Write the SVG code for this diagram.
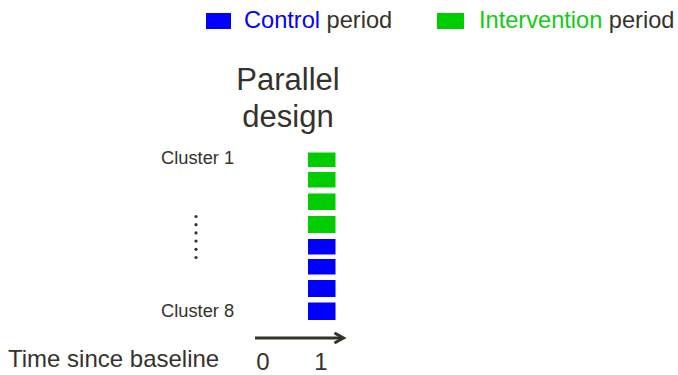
<svg xmlns="http://www.w3.org/2000/svg" width="678" height="375" viewBox="0 0 678 375">
<style>
text{font-family:"Liberation Sans",Arial,sans-serif;fill:#35322c}
.ctl{fill:#0000ff}
.int{fill:#00cc00}
.lbl{font-size:18.3px}
.big{font-size:31px}
.leg{font-size:23.6px}
.ax{font-size:24px}
</style>
<defs>
<marker id="ah" markerWidth="14" markerHeight="14" refX="10" refY="6" orient="auto" markerUnits="userSpaceOnUse">
<path d="M1.5,1 L10.5,6 L1.5,11" fill="none" stroke="#35322c" stroke-width="3"/>
</marker>
</defs>
<rect width="678" height="375" fill="#ffffff"/>
<g id="legend">
<rect class="ctl" x="206" y="13" width="25" height="16"/>
<text class="leg" x="244" y="28"><tspan fill="#0000ff">Control</tspan> period</text>
<rect class="int" x="437" y="13" width="27" height="16"/>
<text class="leg" x="479" y="28"><tspan fill="#11cc11">Intervention</tspan> period</text>
</g>
<g id="title">
<text class="big" x="288" y="90" text-anchor="middle">Parallel</text>
<text class="big" x="288" y="127" text-anchor="middle">design</text>
</g>
<g id="cluster-labels">
<text class="lbl" x="161" y="164">Cluster 1</text>
<text class="lbl" x="161" y="317">Cluster 8</text>
<g fill="#35322c">
<circle cx="196" cy="216.5" r="1.6"/>
<circle cx="196" cy="224.7" r="1.6"/>
<circle cx="196" cy="232.9" r="1.6"/>
<circle cx="196" cy="241.1" r="1.6"/>
<circle cx="196" cy="249.3" r="1.6"/>
<circle cx="196" cy="257.5" r="1.6"/>
</g>
</g>
<g id="blocks">
<rect class="int" x="308" y="152.5" width="27.5" height="14.5"/>
<rect class="int" x="308" y="172" width="27.5" height="15.5"/>
<rect class="int" x="308" y="193.5" width="27.5" height="16.5"/>
<rect class="int" x="308" y="216" width="27.5" height="17"/>
<rect class="ctl" x="308" y="239" width="27.5" height="15.5"/>
<rect class="ctl" x="308" y="259" width="27.5" height="15.5"/>
<rect class="ctl" x="308" y="280" width="27.5" height="17"/>
<rect class="ctl" x="308" y="302.5" width="27.5" height="17.5"/>
</g>
<g id="connectors">
<line x1="255" y1="338" x2="343" y2="338" stroke="#35322c" stroke-width="2.8" marker-end="url(#ah)"/>
</g>
<g id="axis">
<text class="ax" x="8" y="367">Time since baseline</text>
<text class="ax" x="263" y="370" text-anchor="middle">0</text>
<text class="ax" x="321" y="370" text-anchor="middle">1</text>
</g>
</svg>
